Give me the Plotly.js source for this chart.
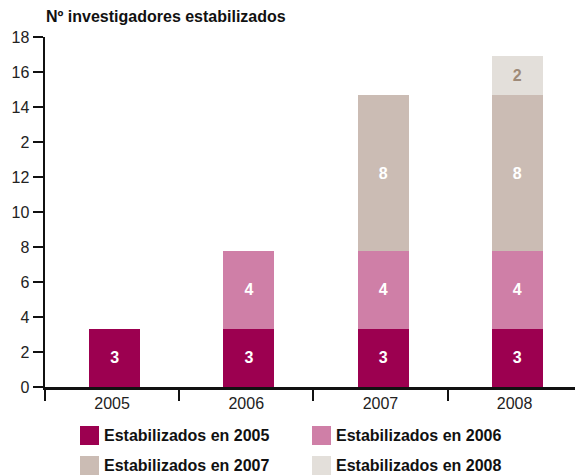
<!DOCTYPE html>
<html>
<head>
<meta charset="utf-8">
<script src="https://cdn.plot.ly/plotly-3.0.1.min.js"></script>
<style>html,body{margin:0;padding:0;background:#fff;}#chart{width:575px;height:475px;}</style>
</head>
<body>
<div id="chart"></div>
<script>
// ---- data ----
const years = ['2005', '2006', '2007', '2008'];
const seriesNames = ['Estabilizados en 2005', 'Estabilizados en 2006', 'Estabilizados en 2007', 'Estabilizados en 2008'];
const est2005 = [3, 3, 3, 3];
const est2006 = [null, 4, 4, 4];
const est2007 = [null, null, 8, 8];
const est2008 = [null, null, null, 2];
const yTickLabels = ['0', '2', '4', '6', '8', '10', '12', '2', '14', '16', '18'];
const chartTitle = 'Nº investigadores estabilizados';

// ---- styles ----
const colors = ['#9c0050', '#cf7fa7', '#cbbcb4', '#e3dfda'];
const textColors = ['#ffffff', '#ffffff', '#ffffff', '#9e8a78'];
const FONT = '"Liberation Sans", Arial, sans-serif';
const W = 575, H = 475;
const M = {l: 45, r: 0, t: 37, b: 88};
const plotW = W - M.l - M.r, plotH = H - M.t - M.b;
const yMax = 18;

const seriesValues = [est2005, est2006, est2007, est2008];
const traces = seriesValues.map((vals, k) => ({
  type: 'bar',
  name: seriesNames[k],
  x: years,
  y: vals,
  width: 0.38,
  offset: -0.17,
  marker: {color: colors[k], line: {width: 0}},
  text: vals.map(v => v == null ? '' : String(v)),
  textposition: 'inside',
  insidetextanchor: 'middle',
  textangle: 0,
  textfont: {family: FONT, size: 16, color: textColors[k], weight: 'bold'},
  hoverinfo: 'skip',
  showlegend: false
}));

// custom legend (2 x 2 grid) built from the series names
const pxX = px => (px - M.l) / plotW;
const pxY = py => (M.t + plotH - py) / plotH;
const legCols = [80, 312];
const legRows = [435.5, 465.5];
const sw = 19;
const shapes = [];
const annotations = [];
seriesNames.forEach((name, k) => {
  const cx = legCols[k % 2], cy = legRows[Math.floor(k / 2)];
  shapes.push({type: 'rect', xref: 'paper', yref: 'paper',
    x0: pxX(cx), x1: pxX(cx + sw), y0: pxY(cy + sw / 2), y1: pxY(cy - sw / 2),
    fillcolor: colors[k], line: {width: 0}});
  annotations.push({xref: 'paper', yref: 'paper', x: pxX(cx + sw + 3), y: pxY(cy),
    xanchor: 'left', yanchor: 'middle', showarrow: false, text: name,
    font: {family: FONT, size: 16, color: '#111', weight: 'bold'}});
});

const layout = {
  width: W, height: H,
  margin: M,
  paper_bgcolor: '#fff', plot_bgcolor: '#fff',
  barmode: 'stack',
  showlegend: false,
  title: {text: chartTitle, x: 46 / W, xanchor: 'left', xref: 'container',
    y: 1 - 16 / H, yanchor: 'middle', yref: 'container',
    font: {family: FONT, size: 16, color: '#111', weight: 'bold'}},
  xaxis: {type: 'category', range: [-0.5, 3.45], showgrid: false, zeroline: false,
    showline: true, linecolor: '#111', linewidth: 2.5,
    ticks: 'outside', tickson: 'boundaries', ticklen: 11, tickwidth: 2, tickcolor: '#111',
    tickfont: {family: FONT, size: 16, color: '#222'}, fixedrange: true},
  yaxis: {range: [0, yMax], showgrid: false, zeroline: false,
    showline: true, linecolor: '#111', linewidth: 2.5,
    tickmode: 'array',
    tickvals: yTickLabels.map((_, i) => i * yMax / (yTickLabels.length - 1)),
    ticktext: yTickLabels,
    ticks: 'outside', ticklen: 10, tickwidth: 2, tickcolor: '#111',
    tickfont: {family: FONT, size: 16, color: '#222'}, fixedrange: true},
  shapes: shapes,
  annotations: annotations
};

Plotly.newPlot('chart', traces, layout, {displayModeBar: false, staticPlot: true});
</script>
</body>
</html>
